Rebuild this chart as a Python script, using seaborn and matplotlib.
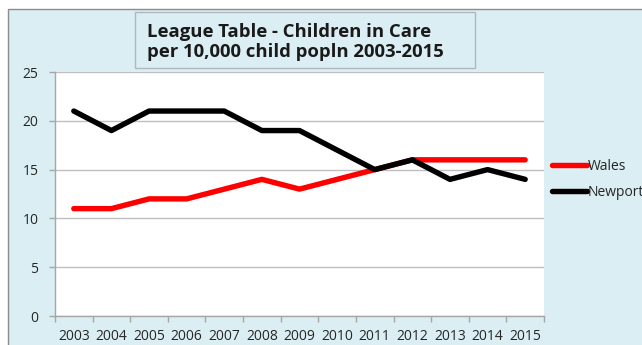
import matplotlib
matplotlib.use("Agg")
import matplotlib.pyplot as plt
from matplotlib.patches import Rectangle
import pandas as pd
import seaborn as sns

# Children in care per 10,000 child population
years = [2003, 2004, 2005, 2006, 2007, 2008, 2009, 2010, 2011, 2012, 2013, 2014, 2015]
wales = [11, 11, 12, 12, 13, 14, 13, 14, 15, 16, 16, 16, 16]
newport = [21, 19, 21, 21, 21, 19, 19, 17, 15, 16, 14, 15, 14]
series_names = ["Wales", "Newport"]
series_colors = ["#FF0000", "#000000"]
y_ticks = [0, 5, 10, 15, 20, 25]
title_text = "League Table - Children in Care\nper 10,000 child popln 2003-2015"

df = pd.concat([
    pd.DataFrame({"Year": years, "Rate": wales, "Area": series_names[0]}),
    pd.DataFrame({"Year": years, "Rate": newport, "Area": series_names[1]}),
])

sns.set_theme(style="white")
plt.rcParams["font.family"] = ["Open Sans", "DejaVu Sans"]

W, H = 642, 345
fig = plt.figure(figsize=(W / 100, H / 100), dpi=100, facecolor="white")

bg = "#DBEEF3"
# chart area panel
fig.patches.append(Rectangle((8 / W, -0.1), 1.0, 1 - 9 / H + 0.1,
                             transform=fig.transFigure, facecolor=bg,
                             edgecolor="#8C8C8C", linewidth=1.0, zorder=-2))
# title box
fig.patches.append(Rectangle((135 / W, 1 - 68 / H), 340 / W, 56 / H,
                             transform=fig.transFigure, facecolor=bg,
                             edgecolor="#B0B8BC", linewidth=1.0, zorder=-1))
fig.text(147 / W, 1 - 42 / H, title_text, ha="left", va="center",
         fontsize=13.3, fontweight="bold", color="#1A1A1A", linespacing=1.18)

ax = fig.add_axes([55 / W, 1 - 316 / H, (544 - 55) / W, (316 - 72) / H])
ax.set_facecolor("white")

sns.lineplot(data=df, x="Year", y="Rate", hue="Area", hue_order=series_names,
             palette=series_colors, linewidth=3.9, sort=False, ax=ax,
             legend=True)
for line in ax.lines:
    line.set_solid_capstyle("round")
    line.set_solid_joinstyle("round")

ax.set_xlim(years[0] - 0.5, years[-1] + 0.5)
ax.set_ylim(0, 25)
ax.set_yticks(y_ticks)
ax.set_xticks(years)
ax.set_xticklabels([str(y) for y in years])
ax.set_xticks([y - 0.5 for y in years] + [years[-1] + 0.5], minor=True)
ax.set_xlabel("")
ax.set_ylabel("")

ax.grid(axis="y", color="#BFBFBF", linewidth=1.0)
ax.set_axisbelow(True)
for side in ["top", "right"]:
    ax.spines[side].set_visible(False)
for side in ["left", "bottom"]:
    ax.spines[side].set_visible(True)
    ax.spines[side].set_color("#A6A6A6")
    ax.spines[side].set_linewidth(1.0)

ax.tick_params(axis="y", which="major", left=True, length=4, width=1,
               color="#A6A6A6", pad=8, labelsize=10, labelcolor="#262626")
ax.tick_params(axis="x", which="major", bottom=False, length=0, pad=9,
               labelsize=10, labelcolor="#262626")
ax.tick_params(axis="x", which="minor", bottom=True, length=4, width=1,
               color="#A6A6A6")

handles, labels = ax.get_legend_handles_labels()
leg = ax.legend(handles, labels, loc="center left",
                bbox_to_anchor=(552 / W, 1 - 179.5 / H),
                bbox_transform=fig.transFigure, frameon=False,
                fontsize=10, handlelength=2.5, handletextpad=0.05,
                labelspacing=0.75, borderpad=0, borderaxespad=0)
for h in leg.get_lines():
    h.set_linewidth(3.9)
for t in leg.get_texts():
    t.set_color("#262626")

fig.savefig("out.png", dpi=100, facecolor="white")
